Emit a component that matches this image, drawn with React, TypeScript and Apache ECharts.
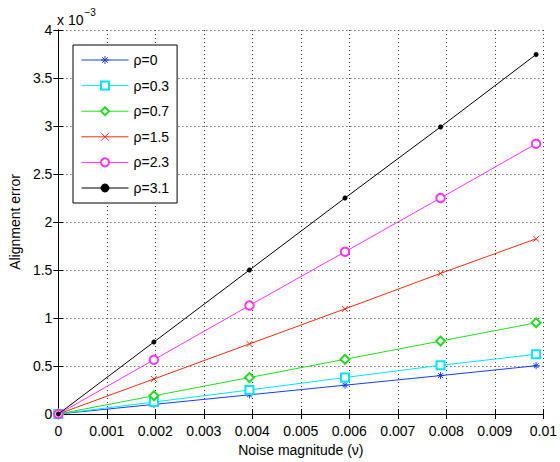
import React, { useEffect, useRef } from "react";
import * as echarts from "echarts";

const xs = [0, 0.00197, 0.00394, 0.00591, 0.00788, 0.00985];
const seriesNames = ["ρ=0", "ρ=0.3", "ρ=0.7", "ρ=1.5", "ρ=2.3", "ρ=3.1"];
const rho0 = [0, 0.1, 0.2, 0.3, 0.4, 0.503];
const rho03 = [0, 0.125, 0.25, 0.38, 0.507, 0.622];
const rho07 = [0, 0.19, 0.38, 0.57, 0.76, 0.95];
const rho15 = [0, 0.365, 0.73, 1.095, 1.465, 1.825];
const rho23 = [0, 0.565, 1.13, 1.69, 2.25, 2.815];
const rho31 = [0, 0.75, 1.5, 2.25, 2.99, 3.745];

const allY = [rho0, rho03, rho07, rho15, rho23, rho31];
const colors = ["#1a3cff", "#00e5ff", "#22dd22", "#ff2a10", "#ff33ff", "#000000"];

const asterisk = "path://M5,0 L5,10 M0,5 L10,5 M1.5,1.5 L8.5,8.5 M8.5,1.5 L1.5,8.5";
const cross = "path://M0,0 L10,10 M10,0 L0,10";
const symbols = [asterisk, "emptyRect", "emptyDiamond", cross, "emptyCircle", "circle"];
const symbolSizes = [7, 8, 9, 6, 8.5, 4.5];
const borderWidths = [1, 0.7, 0.7, 1, 0.7, 0.5];

const FONT = "'Liberation Sans', Arial, Helvetica, sans-serif";

export default function App() {
  const ref = useRef<HTMLDivElement>(null);
  useEffect(() => {
    document.body.style.margin = "0";
    if (!ref.current) return;
    const chart = echarts.init(ref.current, null, { renderer: "svg" });
    const fmt = (v: number) => (v === 0 ? "0" : String(+v.toFixed(3)));
    const axisCommon = {
      axisLine: { show: true, lineStyle: { color: "#000", width: 1 } },
      axisTick: { show: true, inside: true, length: 5, lineStyle: { color: "#000" } },
    };
    chart.setOption({
      animation: false,
      backgroundColor: "#fff",
      textStyle: { fontFamily: FONT },
      grid: { left: 56, right: 14, top: 30, bottom: 48, containLabel: false },
      xAxis: [
        {
          type: "value",
          min: 0,
          max: 0.01,
          interval: 0.001,
          position: "bottom",
          ...axisCommon,
          axisLabel: { color: "#000", fontSize: 14, margin: 10, fontFamily: FONT, formatter: fmt },
          splitLine: { show: true, lineStyle: { color: "#333", type: [1, 3], width: 1 } },
          name: "Noise magnitude (ν)",
          nameLocation: "middle",
          nameGap: 25,
          nameTextStyle: { color: "#000", fontSize: 14, fontFamily: FONT },
        },
        {
          type: "value",
          min: 0,
          max: 0.01,
          interval: 0.001,
          position: "top",
          ...axisCommon,
          axisLabel: { show: false },
          splitLine: { show: false },
        },
      ],
      yAxis: [
        {
          type: "value",
          min: 0,
          max: 4,
          interval: 0.5,
          position: "left",
          ...axisCommon,
          axisLabel: { color: "#000", fontSize: 14, margin: 6, fontFamily: FONT },
          splitLine: { show: true, lineStyle: { color: "#333", type: [1, 3], width: 1 } },
          name: "Alignment error",
          nameLocation: "middle",
          nameGap: 32,
          nameTextStyle: { color: "#000", fontSize: 14, fontFamily: FONT },
        },
        {
          type: "value",
          min: 0,
          max: 4,
          interval: 0.5,
          position: "right",
          ...axisCommon,
          axisLabel: { show: false },
          splitLine: { show: false },
        },
      ],
      legend: {
        orient: "vertical",
        left: 73,
        top: 45,
        itemWidth: 47,
        itemHeight: 10,
        itemGap: 11.6,
        padding: [8, 8, 8, 8],
        borderColor: "#000",
        borderWidth: 1,
        backgroundColor: "#fff",
        itemStyle: { borderWidth: 1 },
        lineStyle: { width: 1 },
        textStyle: { color: "#000", fontSize: 14, fontFamily: FONT },
        data: seriesNames,
      },
      graphic: [
        {
          type: "text",
          left: 57,
          top: 7,
          style: {
            text: "{a|x 10}{b|−3}",
            rich: {
              a: { fontSize: 14, fontFamily: FONT, fill: "#000", padding: [6, 0, 0, 0] },
              b: { fontSize: 10, fontFamily: FONT, fill: "#000", verticalAlign: "top", padding: [0, 0, 8, 1] },
            },
          },
        },
      ],
      series: allY.map((ys, i) => ({
        name: seriesNames[i],
        type: "line",
        data: xs.map((x, j) => [x, ys[j]]),
        symbol: symbols[i],
        symbolSize: symbolSizes[i],
        showAllSymbol: true,
        lineStyle: { color: colors[i], width: 1 },
        itemStyle: { color: colors[i], borderColor: colors[i], borderWidth: borderWidths[i] },
        emphasis: { disabled: true },
        z: 2 + i,
      })),
    });
    return () => chart.dispose();
  }, []);
  return <div ref={ref} style={{ width: 560, height: 462 }} />;
}
